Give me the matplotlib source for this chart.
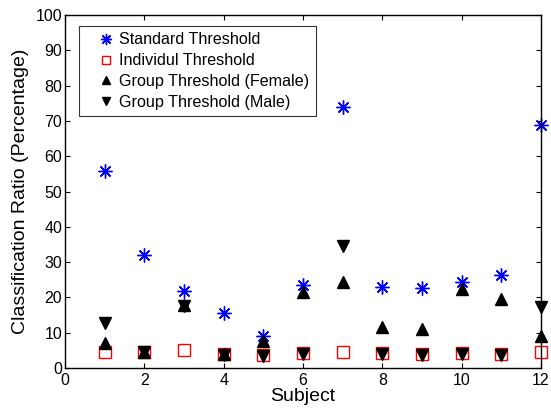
import numpy as np
import matplotlib.pyplot as plt

plt.rcParams['font.family'] = ['Liberation Sans', 'DejaVu Sans']

subjects = np.arange(1, 13)
standard = [55.8, 32.0, 21.9, 15.5, 9.1, 23.6, 73.8, 22.9, 22.6, 24.5, 26.3, 68.8]
individual = [4.4, 4.4, 5.1, 3.9, 3.6, 4.2, 4.4, 4.2, 4.0, 4.2, 4.0, 4.5]
female = [7.1, 4.5, 17.8, 3.9, 7.6, 21.4, 24.3, 11.6, 11.1, 22.4, 19.6, 9.2]
male = [12.7, 4.4, 17.6, 3.8, 3.4, 4.0, 34.6, 4.0, 3.7, 4.1, 3.8, 17.4]

fig = plt.figure(figsize=(5.51, 4.08), dpi=100)
ax = fig.add_axes([65 / 551, 40 / 408, 476 / 551, 353 / 408])

ax.plot(subjects, standard, ls='none', marker=(8, 2, 0), ms=10, mew=1.0,
        color='#0000ff', label='Standard Threshold', clip_on=False)
ax.plot(subjects, individual, ls='none', marker='s', ms=8, mew=1.0,
        mfc='none', mec='#ff0000', label='Individul Threshold', clip_on=False)
ax.plot(subjects, female, ls='none', marker='^', ms=8,
        color='black', label='Group Threshold (Female)', clip_on=False)
ax.plot(subjects, male, ls='none', marker='v', ms=8,
        color='black', label='Group Threshold (Male)', clip_on=False)

ax.set_xlim(0, 12)
ax.set_ylim(0, 100)
ax.set_xticks(np.arange(0, 13, 2))
ax.set_yticks(np.arange(0, 101, 10))
ax.tick_params(direction='in', top=True, right=True, length=3.5,
               width=0.8, labelsize=11.5)
ax.tick_params(axis='y', pad=2)
for s in ax.spines.values():
    s.set_linewidth(1.0)

ax.set_xlabel('Subject', fontsize=14, labelpad=0)
ax.set_ylabel('Classification Ratio (Percentage)', fontsize=14, labelpad=5)

# legend laid out like the matlab one: small markers, text close to them
leg = ax.legend(loc='upper left', bbox_to_anchor=(79 / 551, 1 - 26 / 408),
                bbox_transform=fig.transFigure, borderaxespad=0,
                fontsize=11.6, frameon=True, fancybox=False, markerscale=0.8,
                handlelength=2.6, handletextpad=-0.5, borderpad=0.4,
                labelspacing=0.36, numpoints=1)
leg.get_frame().set_edgecolor('black')
leg.get_frame().set_linewidth(0.8)

fig.savefig('out.png', dpi=100)
